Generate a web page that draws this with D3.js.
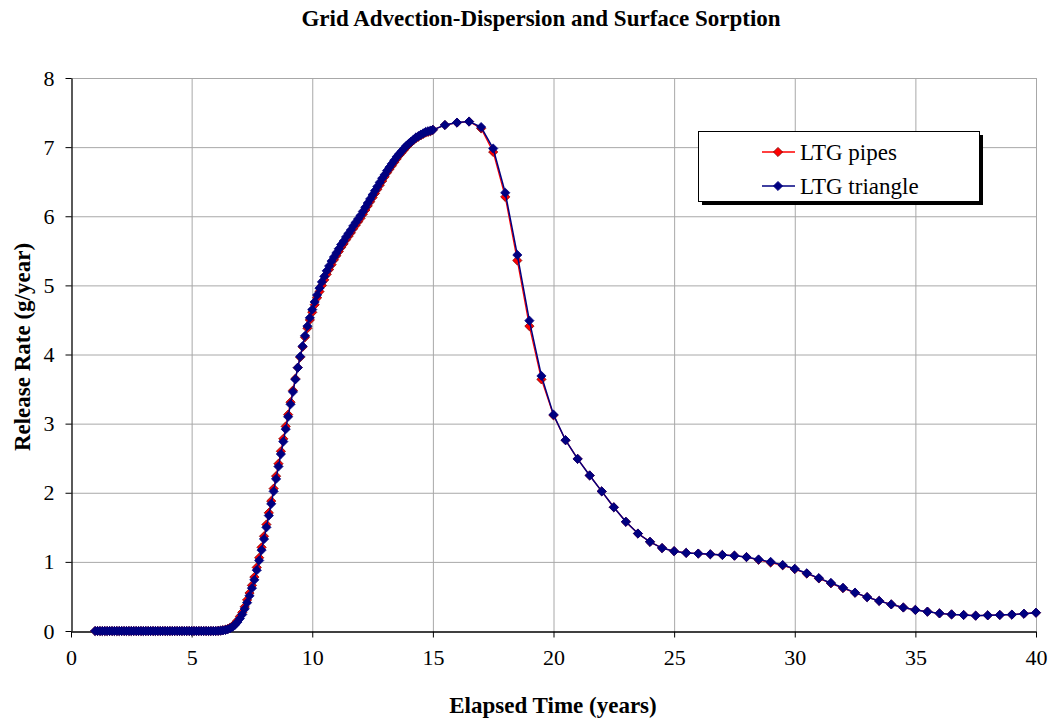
<!DOCTYPE html>
<html><head><meta charset="utf-8">
<script src="https://cdn.jsdelivr.net/npm/d3@7"></script>
<style>body{margin:0;background:#fff;} svg{display:block;} text{font-family:"Liberation Serif","Times New Roman",serif;}</style>
</head><body><svg id="c" width="1051" height="720"></svg>
<script>
// ---- data ----
const chartTitle = "Grid Advection-Dispersion and Surface Sorption";
const xTitle = "Elapsed Time (years)";
const yTitle = "Release Rate (g/year)";
const seriesNames = ["LTG pipes", "LTG triangle"];
const xTicks = [0,5,10,15,20,25,30,35,40];
const yTicks = [0,1,2,3,4,5,6,7,8];

// time steps: 1.0 .. 15.0 every 0.1, then 15.5 .. 40 every 0.5
const timesFine = [1.0,1.1,1.2,1.3,1.4,1.5,1.6,1.7,1.8,1.9,2.0,2.1,2.2,2.3,2.4,2.5,2.6,2.7,2.8,2.9,3.0,3.1,3.2,3.3,3.4,3.5,3.6,3.7,3.8,3.9,4.0,4.1,4.2,4.3,4.4,4.5,4.6,4.7,4.8,4.9,5.0,5.1,5.2,5.3,5.4,5.5,5.6,5.7,5.8,5.9,6.0,6.1,6.2,6.3,6.4,6.5,6.6,6.7,6.8,6.9,7.0,7.1,7.2,7.3,7.4,7.5,7.6,7.7,7.8,7.9,8.0,8.1,8.2,8.3,8.4,8.5,8.6,8.7,8.8,8.9,9.0,9.1,9.2,9.3,9.4,9.5,9.6,9.7,9.8,9.9,10.0,10.1,10.2,10.3,10.4,10.5,10.6,10.7,10.8,10.9,11.0,11.1,11.2,11.3,11.4,11.5,11.6,11.7,11.8,11.9,12.0,12.1,12.2,12.3,12.4,12.5,12.6,12.7,12.8,12.9,13.0,13.1,13.2,13.3,13.4,13.5,13.6,13.7,13.8,13.9,14.0,14.1,14.2,14.3,14.4,14.5,14.6,14.7,14.8,14.9,15.0];
const timesCoarse = [15.5,16,16.5,17,17.5,18,18.5,19,19.5,20,20.5,21,21.5,22,22.5,23,23.5,24,24.5,25,25.5,26,26.5,27,27.5,28,28.5,29,29.5,30,30.5,31,31.5,32,32.5,33,33.5,34,34.5,35,35.5,36,36.5,37,37.5,38,38.5,39,39.5,40];

const pipesFine = [0,0,0,0,0,0,0,0,0,0,0,0,0,0,0,0,0,0,0,0,0,0,0,0,0,0,0,0,0,0,0,0,0,0,0,0,0,0,0,0,0,0,0,0,0,0,0,0,0,0,0,
0.003,0.006,0.012,0.02,0.03,0.05,0.07,0.11,0.15,0.21,0.27,0.35,0.45,0.55,0.66,0.78,0.92,1.06,1.21,1.37,1.54,1.71,1.88,2.06,2.24,2.42,2.60,2.78,2.96,3.13,3.31,3.48,3.65,3.81,3.96,4.11,4.25,4.38,4.50,4.61,4.72,4.82,4.91,5.00,5.08,5.16,5.23,5.30,5.37,5.43,5.49,5.55,5.60,5.66,5.71,5.76,5.82,5.87,5.92,5.97,6.03,6.09,6.15,6.21,6.27,6.33,6.39,6.45,6.51,6.57,6.63,6.68,6.73,6.78,6.83,6.88,6.92,6.96,7.00,7.04,7.07,7.10,7.13,7.15,7.17,7.19,7.21,7.22,7.23,7.25];
const pipesCoarse = [7.32,7.355,7.37,7.27,6.93,6.28,5.36,4.41,3.64,3.12,2.76,2.49,2.25,2.02,1.79,1.58,1.41,1.29,1.20,1.155,1.13,1.12,1.11,1.10,1.09,1.07,1.03,0.99,0.95,0.895,0.83,0.76,0.69,0.62,0.553,0.49,0.435,0.385,0.34,0.305,0.28,0.255,0.24,0.232,0.222,0.227,0.232,0.237,0.25,0.265];

const triangleFine = [0,0,0,0,0,0,0,0,0,0,0,0,0,0,0,0,0,0,0,0,0,0,0,0,0,0,0,0,0,0,0,0,0,0,0,0,0,0,0,0,0,0,0,0,0,0,0,0,0,0,0,
0.002,0.005,0.01,0.015,0.025,0.04,0.06,0.09,0.13,0.18,0.24,0.32,0.41,0.51,0.62,0.74,0.88,1.02,1.17,1.33,1.50,1.67,1.84,2.02,2.20,2.38,2.56,2.74,2.92,3.10,3.28,3.46,3.64,3.81,3.97,4.12,4.27,4.41,4.53,4.65,4.76,4.86,4.96,5.05,5.13,5.21,5.28,5.35,5.41,5.47,5.53,5.59,5.64,5.70,5.75,5.80,5.86,5.91,5.96,6.01,6.07,6.13,6.19,6.25,6.31,6.37,6.43,6.49,6.55,6.60,6.66,6.71,6.76,6.81,6.86,6.90,6.94,6.98,7.02,7.05,7.08,7.11,7.14,7.16,7.18,7.20,7.22,7.23,7.24,7.25];
const triangleCoarse = [7.32,7.355,7.37,7.29,6.98,6.34,5.44,4.49,3.69,3.13,2.76,2.49,2.25,2.02,1.79,1.58,1.41,1.29,1.20,1.155,1.13,1.12,1.11,1.10,1.09,1.07,1.035,1.0,0.955,0.90,0.835,0.765,0.695,0.625,0.555,0.49,0.435,0.385,0.34,0.305,0.28,0.255,0.24,0.232,0.222,0.227,0.232,0.237,0.25,0.265];

const seriesColors = ["#FF0000", "#000080"];
const markerStroke = ["#800000", "#000080"];

// ---- build ----
const times = timesFine.concat(timesCoarse);
const series = [
  {name: seriesNames[0], values: pipesFine.concat(pipesCoarse)},
  {name: seriesNames[1], values: triangleFine.concat(triangleCoarse)}
].map(s => ({name: s.name, pts: times.map((t,i) => ({x:t, y:s.values[i]}))}));

const svg = d3.select("#c");
const L = 71, R = 1036, T = 78, B = 631;
const x = d3.scaleLinear().domain([0,40]).range([L,R]);
const y = d3.scaleLinear().domain([0,8]).range([B,T]);

// gridlines
svg.append("g").selectAll("line.h").data(yTicks.filter(d=>d>0)).join("line")
  .attr("x1",L).attr("x2",R).attr("y1",d=>y(d)+0.5).attr("y2",d=>y(d)+0.5)
  .attr("stroke","#a8a8a8").attr("stroke-width",1);
svg.append("g").selectAll("line.v").data(xTicks.filter(d=>d>0)).join("line")
  .attr("y1",T).attr("y2",B).attr("x1",d=>x(d)+0.5).attr("x2",d=>x(d)+0.5)
  .attr("stroke","#a8a8a8").attr("stroke-width",1);

// axes
const xAxis = svg.append("g").attr("transform",`translate(0,${B+0.5})`)
  .call(d3.axisBottom(x).tickValues(xTicks).tickSize(6).tickSizeOuter(0).tickPadding(12).tickFormat(d3.format("d")));
const yAxis = svg.append("g").attr("transform",`translate(${L+0.5},0)`)
  .call(d3.axisLeft(y).tickValues(yTicks).tickSize(6).tickSizeOuter(0).tickPadding(11).tickFormat(d3.format("d")));
[xAxis,yAxis].forEach(a=>{
  a.select(".domain").attr("stroke","#000").attr("stroke-width",1.3);
  a.selectAll(".tick line").attr("stroke","#000");
  a.selectAll(".tick text").attr("font-family","Liberation Serif").attr("font-size",22).attr("fill","#000");
});

// lines + markers
const line = d3.line().x(d=>x(d.x)).y(d=>y(d.y));
const diamond = r => `M0,${-r}L${r},0L0,${r}L${-r},0Z`;
series.forEach((s,i)=>{
  const g = svg.append("g");
  g.append("path").datum(s.pts).attr("d",line).attr("fill","none")
    .attr("stroke",seriesColors[i]).attr("stroke-width", i===0?1.3:1.5);
  g.selectAll("path.m").data(s.pts).join("path").attr("class","m")
    .attr("transform",d=>`translate(${x(d.x)},${y(d.y)})`)
    .attr("d",diamond(4.6)).attr("fill",seriesColors[i]).attr("stroke",markerStroke[i]).attr("stroke-width",0.8);
});

// titles
svg.append("text").attr("x",541).attr("y",26).attr("text-anchor","middle")
  .attr("font-size",23).attr("font-weight","bold").text(chartTitle);
svg.append("text").attr("x",553).attr("y",713).attr("text-anchor","middle")
  .attr("font-size",23).attr("font-weight","bold").text(xTitle);
svg.append("text").attr("transform","translate(30,347) rotate(-90)").attr("text-anchor","middle")
  .attr("font-size",23).attr("font-weight","bold").text(yTitle);

// legend
const lg = svg.append("g");
lg.append("rect").attr("x",702).attr("y",135).attr("width",281).attr("height",70).attr("fill","#000");
lg.append("rect").attr("x",698.5).attr("y",131.5).attr("width",281).attr("height",70).attr("fill","#fff").attr("stroke","#000").attr("stroke-width",1);
seriesNames.forEach((n,i)=>{
  const cy = 152 + i*34;
  lg.append("line").attr("x1",762).attr("x2",795).attr("y1",cy).attr("y2",cy).attr("stroke",seriesColors[i]).attr("stroke-width",1.5);
  lg.append("path").attr("transform",`translate(778,${cy})`).attr("d",diamond(4.6)).attr("fill",seriesColors[i]).attr("stroke",markerStroke[i]).attr("stroke-width",0.8);
  lg.append("text").attr("x",800).attr("y",cy+7.5).attr("font-size",23).text(n);
});
</script></body></html>
